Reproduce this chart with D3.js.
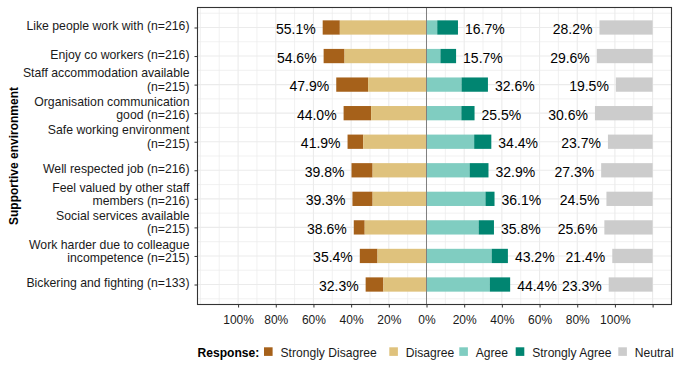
<!DOCTYPE html>
<html>
<head>
<meta charset="utf-8">
<script src="https://cdn.jsdelivr.net/npm/d3@7/dist/d3.min.js"></script>
<style>
  html, body { margin: 0; padding: 0; background: #fff; }
  svg { display: block; font-family: "Liberation Sans", Arial, sans-serif; }
</style>
</head>
<body>
<svg id="chart" width="681" height="373"></svg>
<script>
// ---- Data ----
const categories = [
  "Like people work with (n=216)",
  "Enjoy co workers (n=216)",
  "Staff accommodation available\n(n=215)",
  "Organisation communication\ngood (n=216)",
  "Safe working environment\n(n=215)",
  "Well respected job (n=216)",
  "Feel valued by other staff\nmembers (n=216)",
  "Social services available\n(n=215)",
  "Work harder due to colleague\nincompetence (n=215)",
  "Bickering and fighting (n=133)"
];
const stronglyDisagree = [9.1, 11.1, 16.9, 14.6, 8.3, 11.2, 10.7, 5.8, 9.4, 9.4];
const disagree         = [46.0, 43.5, 31.0, 29.4, 33.6, 28.6, 28.6, 32.8, 26.0, 22.9];
const agree            = [5.7, 7.4, 18.6, 18.5, 25.3, 22.9, 31.3, 27.7, 34.6, 33.6];
const stronglyAgree    = [11.0, 8.3, 14.0, 7.0, 9.1, 10.0, 4.8, 8.1, 8.6, 10.8];
const neutral          = [28.2, 29.6, 19.5, 30.6, 23.7, 27.3, 24.5, 25.6, 21.4, 23.3];
const leftLabels  = [55.1, 54.6, 47.9, 44.0, 41.9, 39.8, 39.3, 38.6, 35.4, 32.3];
const rightLabels = [16.7, 15.7, 32.6, 25.5, 34.4, 32.9, 36.1, 35.8, 43.2, 44.4];
const xTicks = [-100, -80, -60, -40, -20, 0, 20, 40, 60, 80, 100, 120];
const xTickLabels = ["100%", "80%", "60%", "40%", "20%", "0%", "20%", "40%", "60%", "80%", "100%", ""];
const minorTicks = [-120, -110, -90, -70, -50, -30, -10, 10, 30, 50, 70, 90, 110, 130];
const responses = ["Strongly Disagree", "Disagree", "Agree", "Strongly Agree", "Neutral"];
const colors = ["#A6611A", "#DFC27D", "#80CDC1", "#018571", "#CCCCCC"];
const neutralAnchor = 120;

// ---- Layout ----
const svg = d3.select("#chart");
const panel = { left: 197.5, right: 671.5, top: 7.5, bottom: 304.5 };
const x = d3.scaleLinear().domain([-120, 120]).range([200.4, 652.6]);
const y = d3.scalePoint().domain(categories).range([panel.top, panel.bottom]).padding(0.7);
const step = y.step();
const barH = step * 0.5;
const color = d3.scaleOrdinal().domain(responses).range(colors);

// grid
const grid = svg.append("g");
grid.selectAll("line.mv").data(minorTicks).enter().append("line")
  .attr("x1", d => x(d)).attr("x2", d => x(d))
  .attr("y1", panel.top).attr("y2", panel.bottom)
  .attr("stroke", "#EBEBEB").attr("stroke-width", 0.7);
const minorY = [];
categories.forEach(c => minorY.push(y(c) - step / 2));
minorY.push(y(categories[categories.length - 1]) + step / 2);
grid.selectAll("line.mh").data(minorY).enter().append("line")
  .attr("x1", panel.left).attr("x2", panel.right)
  .attr("y1", d => d).attr("y2", d => d)
  .attr("stroke", "#EBEBEB").attr("stroke-width", 0.7);
grid.selectAll("line.Mv").data(xTicks).enter().append("line")
  .attr("x1", d => x(d)).attr("x2", d => x(d))
  .attr("y1", panel.top).attr("y2", panel.bottom)
  .attr("stroke", "#EBEBEB").attr("stroke-width", 1.1);
grid.selectAll("line.Mh").data(categories).enter().append("line")
  .attr("x1", panel.left).attr("x2", panel.right)
  .attr("y1", d => y(d)).attr("y2", d => y(d))
  .attr("stroke", "#EBEBEB").attr("stroke-width", 1.1);

// bars
const bars = svg.append("g");
categories.forEach((c, i) => {
  const cy = y(c) - barH / 2;
  const segs = [
    { r: "Strongly Disagree", x0: -(stronglyDisagree[i] + disagree[i]), x1: -disagree[i] },
    { r: "Disagree", x0: -disagree[i], x1: 0 },
    { r: "Agree", x0: 0, x1: agree[i] },
    { r: "Strongly Agree", x0: agree[i], x1: agree[i] + stronglyAgree[i] },
    { r: "Neutral", x0: neutralAnchor - neutral[i], x1: neutralAnchor }
  ];
  bars.selectAll(null).data(segs).enter().append("rect")
    .attr("x", d => x(d.x0)).attr("width", d => x(d.x1) - x(d.x0))
    .attr("y", cy).attr("height", barH)
    .attr("fill", d => color(d.r));
});

// zero line
svg.append("line")
  .attr("x1", x(0)).attr("x2", x(0))
  .attr("y1", panel.top).attr("y2", panel.bottom)
  .attr("stroke", "#808080").attr("stroke-width", 1);

// percent labels
const labs = svg.append("g").attr("font-size", 14).attr("fill", "#000");
categories.forEach((c, i) => {
  const by = y(c) + 6.5;
  labs.append("text").attr("x", x(-(stronglyDisagree[i] + disagree[i])) - 7).attr("y", by)
    .attr("text-anchor", "end").text(leftLabels[i].toFixed(1) + "%");
  labs.append("text").attr("x", x(agree[i] + stronglyAgree[i]) + 7).attr("y", by)
    .attr("text-anchor", "start").text(rightLabels[i].toFixed(1) + "%");
  labs.append("text").attr("x", x(neutralAnchor - neutral[i]) - 7).attr("y", by)
    .attr("text-anchor", "end").text(neutral[i].toFixed(1) + "%");
});

// panel border
svg.append("rect")
  .attr("x", panel.left).attr("y", panel.top)
  .attr("width", panel.right - panel.left).attr("height", panel.bottom - panel.top)
  .attr("fill", "none").attr("stroke", "#333").attr("stroke-width", 1.1);

// x axis
const xAxis = svg.append("g").attr("transform", `translate(0,${panel.bottom})`)
  .call(d3.axisBottom(x).tickValues(xTicks)
    .tickFormat((d, i) => xTickLabels[i]).tickSize(3).tickPadding(8));
xAxis.select(".domain").remove();
xAxis.selectAll(".tick line").attr("stroke", "#333");
xAxis.selectAll("text").attr("font-size", 12).attr("fill", "#1a1a1a")
  .attr("font-family", "Liberation Sans, Arial, sans-serif");

// y axis
const yAxis = svg.append("g").attr("transform", `translate(${panel.left},0)`)
  .call(d3.axisLeft(y).tickSize(3).tickFormat(""));
yAxis.select(".domain").remove();
yAxis.selectAll(".tick line").attr("stroke", "#333");
const yl = svg.append("g").attr("font-size", 12.25).attr("fill", "#1a1a1a").attr("text-anchor", "end");
categories.forEach(c => {
  const lines = c.split("\n");
  const cy = y(c);
  if (lines.length === 1) {
    yl.append("text").attr("x", 189.5).attr("y", cy - 1.5).attr("dominant-baseline", "central").text(lines[0]);
  } else {
    yl.append("text").attr("x", 189.5).attr("y", cy - 11.3).attr("dominant-baseline", "central").text(lines[0]);
    yl.append("text").attr("x", 189.5).attr("y", cy + 2).attr("dominant-baseline", "central").text(lines[1]);
  }
});

// y axis title
svg.append("text")
  .attr("transform", `translate(17.5,${(panel.top + panel.bottom) / 2}) rotate(-90)`)
  .attr("text-anchor", "middle").attr("font-size", 12).attr("font-weight", "bold")
  .attr("fill", "#000").text("Supportive environment");

// legend
const lg = svg.append("g").attr("font-size", 12.1);
lg.append("text").attr("x", 197.5).attr("y", 357).attr("font-weight", "bold").attr("fill", "#000").text("Response:");
const keyX = [264, 389.3, 459.3, 515.7, 618.3];
responses.forEach((r, i) => {
  lg.append("rect").attr("x", keyX[i]).attr("y", 347.3).attr("width", 8.6).attr("height", 8.6).attr("fill", color(r));
  lg.append("text").attr("x", keyX[i] + 16.5).attr("y", 356.5).attr("fill", "#1a1a1a").text(r);
});
</script>
</body>
</html>
